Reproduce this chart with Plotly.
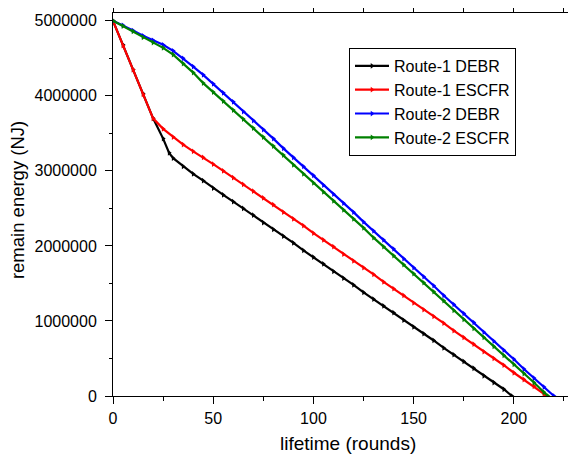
import plotly.graph_objects as go

# Route-1 DEBR (black)
r1_debr_x = [0, 5, 10, 15, 20, 25, 28, 30, 35, 40, 45, 50, 55, 60, 65, 70, 75, 80, 85, 90,
             95, 100, 105, 110, 115, 120, 125, 130, 135, 140, 145, 150, 155, 160, 165, 170,
             175, 180, 185, 190, 195, 199]
r1_debr_y = [5.00, 4.68, 4.35, 4.03, 3.70, 3.43, 3.24, 3.17, 3.06, 2.96, 2.87, 2.77, 2.68, 2.59,
             2.50, 2.41, 2.31, 2.22, 2.13, 2.04, 1.94, 1.85, 1.76, 1.66, 1.57, 1.48, 1.38, 1.29,
             1.20, 1.11, 1.01, 0.92, 0.83, 0.74, 0.64, 0.55, 0.46, 0.37, 0.27, 0.18, 0.09, 0.00]

# Route-1 ESCFR (red)
r1_escfr_x = [0, 5, 10, 15, 20, 25, 30, 35, 40, 45, 50, 55, 60, 65, 70, 75, 80, 85, 90, 95,
              100, 105, 110, 115, 120, 125, 130, 135, 140, 145, 150, 155, 160, 165, 170, 175,
              180, 185, 190, 195, 200, 205, 210, 215, 216]
r1_escfr_y = [5.00, 4.67, 4.35, 4.02, 3.70, 3.56, 3.45, 3.35, 3.26, 3.18, 3.09, 3.00, 2.91, 2.82,
              2.73, 2.64, 2.55, 2.45, 2.36, 2.27, 2.17, 2.08, 1.99, 1.89, 1.80, 1.71, 1.62, 1.52,
              1.43, 1.34, 1.24, 1.15, 1.06, 0.97, 0.87, 0.78, 0.69, 0.59, 0.50, 0.41, 0.31, 0.22,
              0.13, 0.03, 0.00]

# Route-2 DEBR (blue)
r2_debr_x = [0, 5, 10, 15, 20, 25, 30, 35, 40, 45, 50, 55, 60, 65, 70, 75, 80, 85, 90, 95,
             100, 105, 110, 115, 120, 125, 130, 135, 140, 145, 150, 155, 160, 165, 170, 175,
             180, 185, 190, 195, 200, 205, 210, 215, 220]
r2_debr_y = [5.00, 4.94, 4.87, 4.80, 4.74, 4.68, 4.60, 4.50, 4.39, 4.28, 4.16, 4.04, 3.92, 3.79,
             3.67, 3.55, 3.43, 3.30, 3.18, 3.06, 2.94, 2.81, 2.69, 2.57, 2.45, 2.32, 2.20, 2.08,
             1.96, 1.83, 1.71, 1.59, 1.47, 1.34, 1.22, 1.10, 0.98, 0.85, 0.73, 0.61, 0.49, 0.36,
             0.24, 0.12, 0.00]

# Route-2 ESCFR (green)
r2_escfr_x = [0, 5, 10, 15, 20, 25, 30, 35, 40, 45, 50, 55, 60, 65, 70, 75, 80, 85, 90, 95,
              100, 105, 110, 115, 120, 125, 130, 135, 140, 145, 150, 155, 160, 165, 170, 175,
              180, 185, 190, 195, 200, 205, 210, 215, 217]
r2_escfr_y = [5.00, 4.93, 4.86, 4.78, 4.71, 4.64, 4.55, 4.43, 4.31, 4.17, 4.05, 3.93, 3.81, 3.69,
              3.57, 3.45, 3.33, 3.21, 3.08, 2.96, 2.84, 2.72, 2.60, 2.48, 2.36, 2.24, 2.11, 1.99,
              1.87, 1.75, 1.63, 1.51, 1.39, 1.27, 1.14, 1.02, 0.90, 0.78, 0.66, 0.54, 0.42, 0.30,
              0.18, 0.05, 0.00]

names = ["Route-1 DEBR", "Route-1 ESCFR", "Route-2 DEBR", "Route-2 ESCFR"]
colors = ["#000000", "#ff0000", "#0000ff", "#008000"]
xs = [r1_debr_x, r1_escfr_x, r2_debr_x, r2_escfr_x]
ys = [r1_debr_y, r1_escfr_y, r2_debr_y, r2_escfr_y]

FONT = "Liberation Sans, Arial"

fig = go.Figure()
for name, color, x, y in zip(names, colors, xs, ys):
    fig.add_trace(go.Scatter(
        x=x, y=[v * 1e6 for v in y], name=name, mode="lines+markers",
        line=dict(color=color, width=2.2),
        marker=dict(symbol="triangle-right", size=5, color=color),
    ))

axis_common = dict(
    showline=True, linecolor="black", linewidth=1,
    ticks="outside", tickcolor="black", ticklen=7, tickwidth=1,
    showgrid=False, zeroline=False, automargin=False,
    tickfont=dict(family=FONT, size=16, color="black"),
)

fig.update_xaxes(
    range=[0, 231], tickmode="array", tickvals=[0, 50, 100, 150, 200],
    minor=dict(tickvals=[25, 75, 125, 175, 225], ticks="outside", ticklen=4, tickcolor="black"),
    mirror="ticks", ticklabelstandoff=1,
    **axis_common,
)
fig.update_yaxes(
    range=[0, 5.104e6], tickmode="array",
    tickvals=[0, 1e6, 2e6, 3e6, 4e6, 5e6],
    ticktext=["0", "1000000", "2000000", "3000000", "4000000", "5000000"],
    minor=dict(tickvals=[5e5, 1.5e6, 2.5e6, 3.5e6, 4.5e6], ticks="outside", ticklen=3, tickcolor="black"),
    ticklabelstandoff=5,
    **axis_common,
)

# page body has an 8px margin: figure is placed at (8, 8) in the window
fig.update_layout(
    width=568, height=447,
    margin=dict(l=105, r=0, t=5, b=59),
    plot_bgcolor="white", paper_bgcolor="white",
    legend=dict(
        x=(349 - 113) / 463, y=(395.8 - 48) / 382.8, xanchor="left", yanchor="top",
        bordercolor="black", borderwidth=1, bgcolor="white",
        font=dict(family=FONT, size=16, color="black"),
        tracegroupgap=0, itemwidth=34, entrywidth=128,
    ),
    annotations=[
        dict(text="lifetime (rounds)", xref="paper", yref="paper",
             x=(348 - 113) / 463, y=-(443 - 395.8) / 382.8, xanchor="center", yanchor="middle",
             showarrow=False, font=dict(family=FONT, size=19, color="black")),
        dict(text="remain energy (NJ)", xref="paper", yref="paper",
             x=(17 - 113) / 463, y=(395.8 - 200) / 382.8, xanchor="center", yanchor="middle",
             textangle=-90, showarrow=False, font=dict(family=FONT, size=18.5, color="black")),
    ],
)

fig.write_html("out.html")
